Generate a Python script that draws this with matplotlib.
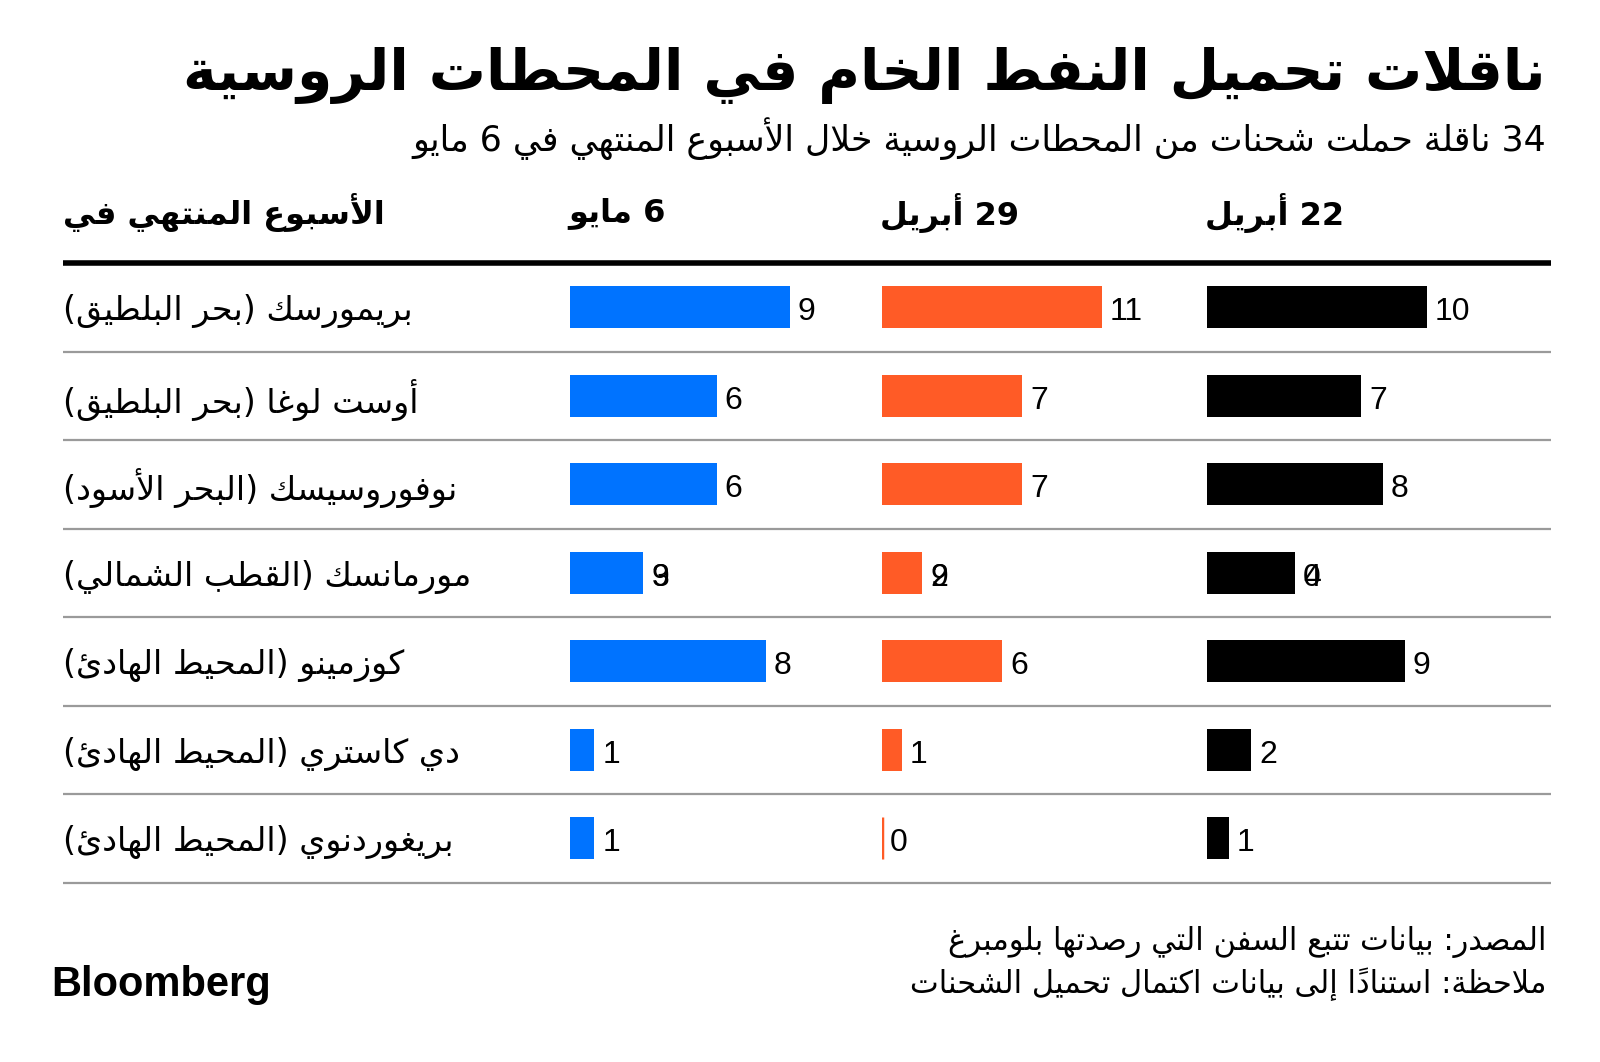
import matplotlib
matplotlib.use('Agg')
import matplotlib.pyplot as plt

# --- data -------------------------------------------------------------
ports = [
    'بريمورسك (بحر البلطيق)',
    'أوست لوغا (بحر البلطيق)',
    'نوفوروسيسك (البحر الأسود)',
    'مورمانسك (القطب الشمالي)',
    'كوزمينو (المحيط الهادئ)',
    'دي كاستري (المحيط الهادئ)',
    'بريغوردنوي (المحيط الهادئ)',
]
weeks = ['6 مايو', '29 أبريل', '22 أبريل']
may_6 = [9, 6, 6, 3, 8, 1, 1]
apr_29 = [11, 7, 7, 2, 6, 1, 0]
apr_22 = [10, 7, 8, 4, 9, 2, 1]
# stray labels printed on top of the Murmansk values in the original
ghost_labels = ['9', '9', '0']

title = 'ناقلات تحميل النفط الخام في المحطات الروسية'
subtitle = '34 ناقلة حملت شحنات من المحطات الروسية خلال الأسبوع المنتهي في 6 مايو'
row_header = 'الأسبوع المنتهي في'
source = 'المصدر: بيانات تتبع السفن التي رصدتها بلومبرغ'
note = 'ملاحظة: استناداً إلى بيانات اكتمال تحميل الشحنات'

colors = ['#0073ff', '#ff5b26', '#000000']


# --- minimal arabic shaping (matplotlib has no complex text layout) ----
FORMS = {
    'ء': (0xFE80, 1), 'آ': (0xFE81, 2), 'أ': (0xFE83, 2), 'ؤ': (0xFE85, 2),
    'إ': (0xFE87, 2), 'ئ': (0xFE89, 4), 'ا': (0xFE8D, 2), 'ب': (0xFE8F, 4),
    'ة': (0xFE93, 2), 'ت': (0xFE95, 4), 'ث': (0xFE99, 4), 'ج': (0xFE9D, 4),
    'ح': (0xFEA1, 4), 'خ': (0xFEA5, 4), 'د': (0xFEA9, 2), 'ذ': (0xFEAB, 2),
    'ر': (0xFEAD, 2), 'ز': (0xFEAF, 2), 'س': (0xFEB1, 4), 'ش': (0xFEB5, 4),
    'ص': (0xFEB9, 4), 'ض': (0xFEBD, 4), 'ط': (0xFEC1, 4), 'ظ': (0xFEC5, 4),
    'ع': (0xFEC9, 4), 'غ': (0xFECD, 4), 'ف': (0xFED1, 4), 'ق': (0xFED5, 4),
    'ك': (0xFED9, 4), 'ل': (0xFEDD, 4), 'م': (0xFEE1, 4), 'ن': (0xFEE5, 4),
    'ه': (0xFEE9, 4), 'و': (0xFEED, 2), 'ى': (0xFEEF, 2), 'ي': (0xFEF1, 4),
}
LAM_ALEF = {'آ': 0xFEF5, 'أ': 0xFEF7, 'إ': 0xFEF9, 'ا': 0xFEFB}
MIRROR = {'(': ')', ')': '('}


def kind(base):
    if base.startswith('LA'):
        return 2
    return FORMS.get(base, (0, 0))[1]


def ar(text):
    clusters = []
    for ch in text:
        if '\u064B' <= ch <= '\u0652' and clusters:
            clusters[-1][1] += ch
        else:
            clusters.append([ch, ''])
    merged = []
    for c in clusters:
        if merged and merged[-1][0] == 'ل' and not merged[-1][1] and c[0] in LAM_ALEF:
            merged[-1] = ['LA' + c[0], c[1]]
        else:
            merged.append(c)

    glyphs = []
    for i, (b, marks) in enumerate(merged):
        k = kind(b)
        prev = i > 0 and k >= 2 and kind(merged[i - 1][0]) == 4
        nxt = k == 4 and i + 1 < len(merged) and kind(merged[i + 1][0]) >= 2
        if b.startswith('LA'):
            g = chr(LAM_ALEF[b[2]] + (1 if prev else 0))
        elif k == 0:
            g = b
        elif k == 1:
            g = chr(FORMS[b][0])
        else:
            off = 3 if (prev and nxt) else 2 if nxt else 1 if prev else 0
            g = chr(FORMS[b][0] + off)
        glyphs.append((b, g + marks))

    # visual order: reverse, but keep digit runs left-to-right
    runs = []
    for b, g in glyphs:
        if b.isdigit():
            if runs and runs[-1][0] == 'ltr':
                runs[-1][1].append(g)
            else:
                runs.append(('ltr', [g]))
        else:
            runs.append(('rtl', [MIRROR.get(g, g)]))
    return ''.join(''.join(r[1]) for r in reversed(runs))


# --- figure -------------------------------------------------------------
W, H = 1600, 1062
fig = plt.figure(figsize=(W / 100, H / 100), dpi=100)
fig.patch.set_facecolor('white')

ARFONT = ['DejaVu Sans']


def fx(x):
    return x / W


def fy(y):
    return 1 - y / H


fig.text(fx(1546), fy(76), ar(title), ha='right', va='center',
         fontsize=41, fontweight='bold', family=ARFONT)
fig.text(fx(1546), fy(139), ar(subtitle), ha='right', va='center',
         fontsize=25, family=ARFONT)

fig.text(fx(63), fy(213), ar(row_header), ha='left', va='center',
         fontsize=23, fontweight='bold', family=ARFONT)

band_top, band_bot = 263, 882.5
n = len(ports)

# table rules and port names
ax_bg = fig.add_axes([fx(63), fy(band_bot), fx(1551) - fx(63), fy(band_top) - fy(band_bot)])
ax_bg.set_xlim(0, 1)
ax_bg.set_ylim(n - 0.5, -0.5)
ax_bg.axis('off')
ax_bg.hlines([-0.5], 0, 1, color='black', lw=4, clip_on=False)
ax_bg.hlines([i + 0.5 for i in range(n)], 0, 1, color='#9a9a9a', lw=1.6, clip_on=False)
for i, p in enumerate(ports):
    ax_bg.annotate(ar(p), (0, i), xytext=(0, -4), textcoords='offset pixels',
                   ha='left', va='center', fontsize=24, family=ARFONT)

# bar columns
col_x = [570, 882, 1207]
bar_px = 220  # length of each column's largest bar
axw = 300
for c, (vals, week, color) in enumerate(zip([may_6, apr_29, apr_22], weeks, colors)):
    ax = fig.add_axes([fx(col_x[c]), fy(band_bot), axw / W, fy(band_top) - fy(band_bot)])
    ax.set_xlim(0, max(vals) * axw / bar_px)
    ax.set_ylim(n - 0.5, -0.5)
    ax.axis('off')
    ax.barh(range(n), vals, height=0.475, color=color, edgecolor=color,
            linewidth=[2.5 if v == 0 else 0 for v in vals])
    for i, v in enumerate(vals):
        ax.annotate(str(v), (v, i), xytext=(8, -5), textcoords='offset pixels',
                    ha='left', va='center', fontsize=23, family='Liberation Sans')
    ax.annotate(ghost_labels[c], (vals[3], 3), xytext=(8, -5), textcoords='offset pixels',
                ha='left', va='center', fontsize=23, family='Liberation Sans')
    fig.text(fx(col_x[c] - 2), fy(213), ar(week), ha='left', va='center',
             fontsize=23, fontweight='bold', family=ARFONT)

# footer
fig.text(fx(1546), fy(942), ar(source), ha='right', va='center',
         fontsize=22, family=ARFONT)
fig.text(fx(1546), fy(984), ar(note), ha='right', va='center',
         fontsize=22, family=ARFONT)
fig.text(fx(51), fy(985), 'Bloomberg', ha='left', va='center',
         fontsize=30, fontweight='bold', family='Liberation Sans')

fig.savefig('out.png', dpi=100, facecolor='white')
